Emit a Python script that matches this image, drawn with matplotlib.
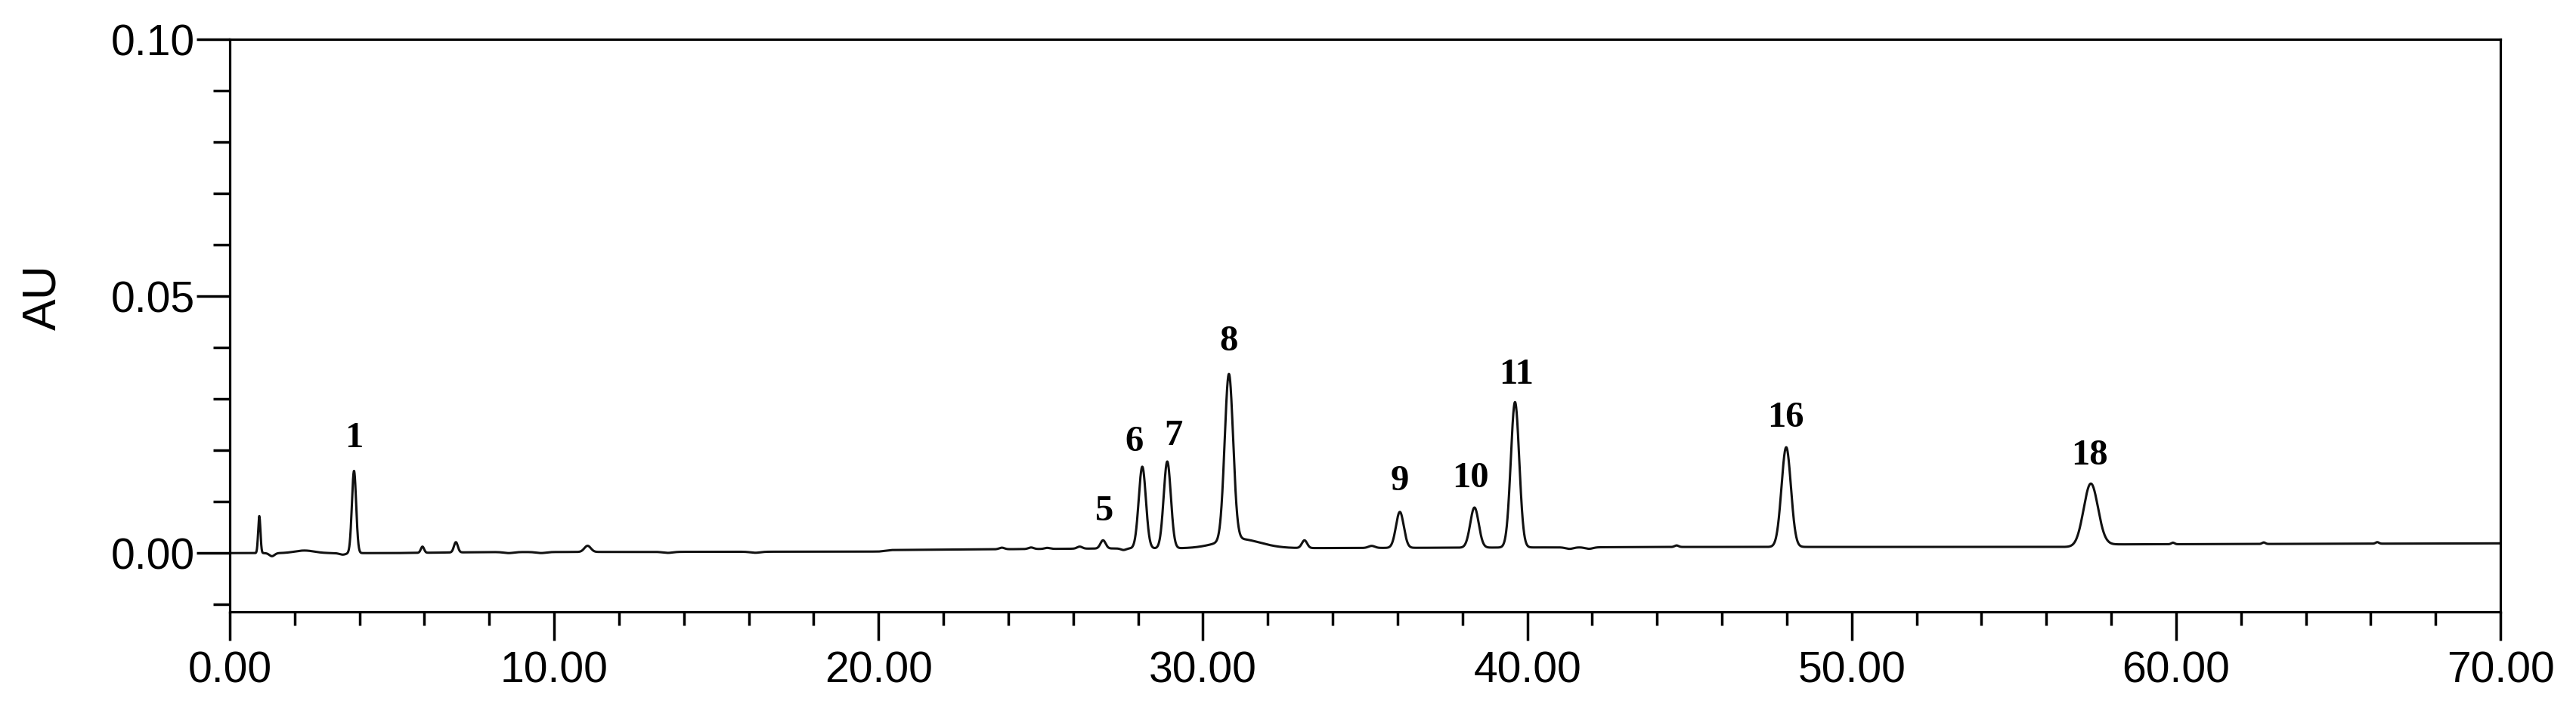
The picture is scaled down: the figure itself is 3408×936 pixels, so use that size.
import numpy as np
import matplotlib
matplotlib.use("Agg")
import matplotlib.pyplot as plt
from matplotlib.ticker import MultipleLocator, FormatStrFormatter

# ---- data ----
# peak table: retention time (min), height above baseline (AU), width sigma (min)
peak_time   = [0.91, 1.30, 2.30, 3.48, 3.83, 5.94, 6.97, 8.6, 9.6, 11.03, 13.5, 16.2,
               23.8, 24.7, 25.2, 26.2, 26.92, 27.55, 28.13, 28.90, 30.80, 31.10, 33.13, 35.2,
               36.07, 38.37, 39.62, 41.3, 41.9, 44.6, 47.98, 57.37, 59.9, 62.7, 66.2]
peak_height = [0.0072, -0.0006, 0.0005, -0.0003, 0.0160, 0.0012, 0.0020, -0.0002, -0.0002, 0.0012, -0.0002, -0.0002,
               0.0003, 0.0003, 0.0002, 0.0004, 0.0016, -0.0003, 0.0159, 0.0169, 0.0323, 0.0018, 0.0015, 0.0004,
               0.0070, 0.0078, 0.0283, -0.0003, -0.0003, 0.0003, 0.0194, 0.0121, 0.0003, 0.0003, 0.0003]
peak_sigma  = [0.035, 0.08, 0.30, 0.10, 0.065, 0.05, 0.06, 0.15, 0.15, 0.10, 0.15, 0.15,
               0.08, 0.08, 0.08, 0.08, 0.08, 0.08, 0.11, 0.11, 0.13, 0.65, 0.08, 0.10,
               0.12, 0.13, 0.13, 0.12, 0.12, 0.06, 0.145, 0.22, 0.05, 0.05, 0.05]

# drifting baseline (time, AU)
base_time  = [0.0, 5.0, 8.0, 20.0, 20.4, 27.0, 35.0, 45.0, 56.9, 57.9, 70.0]
base_level = [0.0, 0.0, 0.0002, 0.0003, 0.0006, 0.0009, 0.0010, 0.0012, 0.0012, 0.0017, 0.0019]

# labelled peaks: label text, label anchor (time, AU)
label_text = ["1", "5", "6", "7", "8", "9", "10", "11", "16", "18"]
label_time = [3.83, 26.97, 27.89, 29.08, 30.79, 36.07, 38.24, 39.66, 47.97, 57.33]
label_au   = [0.0224, 0.0081, 0.0216, 0.0228, 0.0412, 0.0140, 0.0146, 0.0347, 0.0263, 0.0190]

x_ticks = [0, 10, 20, 30, 40, 50, 60, 70]
y_ticks = [0.00, 0.05, 0.10]

# ---- build trace ----
t = np.linspace(0, 70, 28001)
signal = np.interp(t, base_time, base_level)
for tr, h, s in zip(peak_time, peak_height, peak_sigma):
    signal = signal + h * np.exp(-0.5 * ((t - tr) / s) ** 2)

fig = plt.figure(figsize=(34.08, 9.36), dpi=100)
ax = fig.add_axes([0.0892, 0.1341, 0.9707 - 0.0892, 0.9444 - 0.1341])
ax.plot(t, signal, color="#111111", lw=2.2, solid_joinstyle="round")

ax.set_xlim(0, 70)
ax.set_ylim(-0.0115, 0.10)
ax.set_xticks(x_ticks)
ax.set_yticks(y_ticks)
ax.xaxis.set_minor_locator(MultipleLocator(2))
ax.yaxis.set_minor_locator(MultipleLocator(0.01))
ax.xaxis.set_major_formatter(FormatStrFormatter("%.2f"))
ax.yaxis.set_major_formatter(FormatStrFormatter("%.2f"))

for sp in ax.spines.values():
    sp.set_linewidth(2.3)
    sp.set_color("black")

ax.tick_params(axis="x", which="major", direction="out", length=27, width=2.5, pad=10,
               labelsize=41, colors="black")
ax.tick_params(axis="x", which="minor", direction="out", length=13, width=2.5)
ax.tick_params(axis="y", which="major", direction="out", length=32, width=2.5, pad=1,
               labelsize=41, colors="black")
ax.tick_params(axis="y", which="minor", direction="out", length=16, width=2.5)
for lab in ax.get_xticklabels() + ax.get_yticklabels():
    lab.set_fontfamily("Liberation Sans")

fig.text(57 / 3408, 1 - 393 / 936, "AU", rotation=90, ha="center", va="center",
         fontsize=45, family="Liberation Sans")

for txt, lt, la in zip(label_text, label_time, label_au):
    ax.text(lt, la, txt, ha="center", va="center", fontsize=35,
            family="Liberation Serif", fontweight="bold", color="black")

fig.savefig("out.png", dpi=100, facecolor="white")
